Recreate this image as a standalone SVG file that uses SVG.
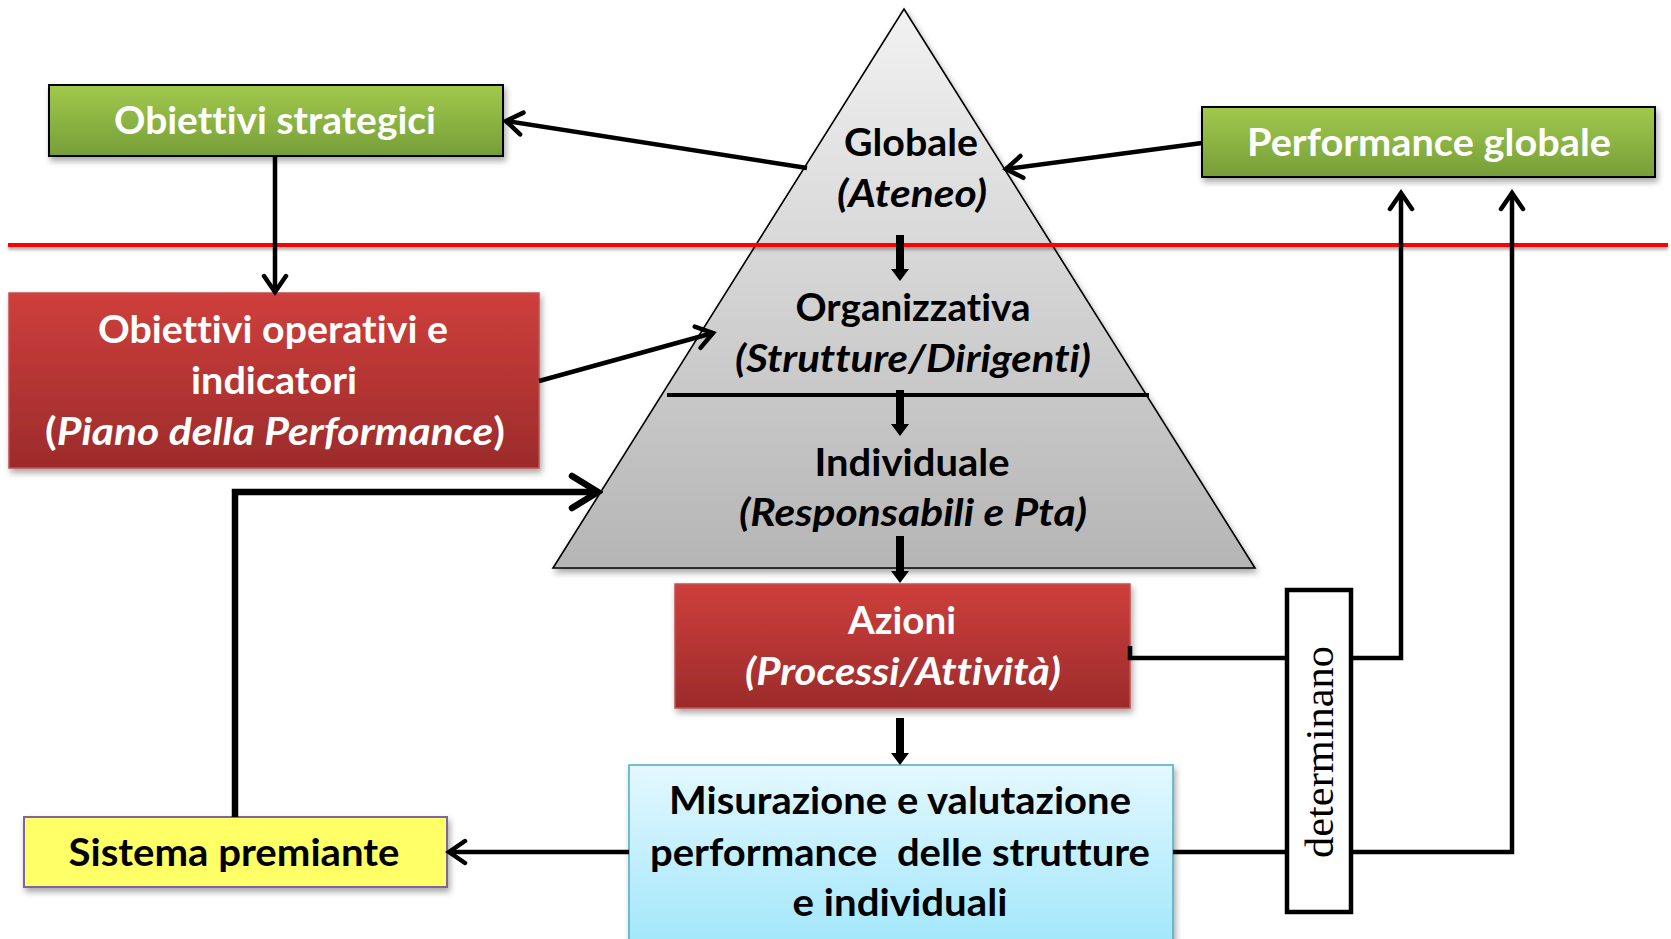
<svg xmlns="http://www.w3.org/2000/svg" width="1671" height="939" viewBox="0 0 1671 939">
<defs>
<linearGradient id="gGreen" x1="0" y1="0" x2="0" y2="1"><stop offset="0" stop-color="#a1c94d"/><stop offset="1" stop-color="#769e38"/></linearGradient>
<linearGradient id="gRed" x1="0" y1="0" x2="0" y2="1"><stop offset="0" stop-color="#ce3f3c"/><stop offset="1" stop-color="#9c2b2b"/></linearGradient>
<linearGradient id="gBlue" x1="0" y1="0" x2="0" y2="1"><stop offset="0" stop-color="#e4f8fe"/><stop offset="1" stop-color="#a0e6fb"/></linearGradient>
<linearGradient id="gPyr" x1="0" y1="0" x2="0" y2="1"><stop offset="0" stop-color="#f2f2f2"/><stop offset="1" stop-color="#b5b5b5"/></linearGradient>
<filter id="sh" x="-10%" y="-10%" width="125%" height="140%"><feDropShadow dx="2" dy="4" stdDeviation="3" flood-color="#000" flood-opacity="0.35"/></filter>
<filter id="shl" filterUnits="userSpaceOnUse" x="0" y="230" width="1671" height="30"><feDropShadow dx="0" dy="3" stdDeviation="1.5" flood-color="#000" flood-opacity="0.3"/></filter>
<marker id="arr" viewBox="0 0 24 28" refX="20" refY="14" markerWidth="24" markerHeight="28" markerUnits="userSpaceOnUse" orient="auto"><path d="M4,3 L20,14 L4,25" fill="none" stroke="#000" stroke-width="4.5" stroke-linecap="round"/></marker>
<marker id="arrbig" viewBox="0 0 36 40" refX="31" refY="20" markerWidth="36" markerHeight="40" markerUnits="userSpaceOnUse" orient="auto"><path d="M5,4 L31,20 L5,36" fill="none" stroke="#000" stroke-width="6.5" stroke-linecap="round"/></marker>
<style>
.t{font-family:Lato,"Open Sans","Liberation Sans",sans-serif;font-weight:bold;font-size:38px;text-anchor:middle;font-variant-ligatures:none;font-feature-settings:"liga" 0,"clig" 0,"dlig" 0,"calt" 0;letter-spacing:0.01px}
.w{fill:#fff}
.k{fill:#000}
.i{font-style:italic}
.c{fill:none;stroke:#000;stroke-width:4.5}
.box{filter:url(#sh)}
</style>
</defs>
<rect width="1671" height="939" fill="#fff"/>

<g id="pyramid">
<path d="M904,9 L1255,568 L553,568 Z" fill="url(#gPyr)" stroke="#000" stroke-width="1.6" filter="url(#sh)"/>
<line x1="667" y1="395" x2="1149" y2="395" stroke="#000" stroke-width="4"/>
<text class="t k" x="911" y="156" textLength="134" lengthAdjust="spacingAndGlyphs">Globale</text>
<text class="t k i" x="912" y="207" textLength="150" lengthAdjust="spacingAndGlyphs">(Ateneo)</text>
<text class="t k" x="913" y="321" textLength="235" lengthAdjust="spacingAndGlyphs">Organizzativa</text>
<text class="t k i" x="913" y="372" textLength="356" lengthAdjust="spacingAndGlyphs">(Strutture/Dirigenti)</text>
<text class="t k" x="912" y="476" textLength="195" lengthAdjust="spacingAndGlyphs">Individuale</text>
<text class="t k i" x="913" y="526" textLength="348" lengthAdjust="spacingAndGlyphs">(Responsabili e Pta)</text>
</g>

<line id="redline" x1="8" y1="245" x2="1668" y2="245" stroke="#ff0000" stroke-width="4" filter="url(#shl)"/>

<g id="obiettivi-strategici">
<rect class="box" x="49" y="85" width="454" height="71" fill="url(#gGreen)" stroke="#000" stroke-width="2"/>
<text class="t w" x="275" y="134" textLength="322" lengthAdjust="spacingAndGlyphs">Obiettivi strategici</text>
</g>

<g id="performance-globale">
<rect class="box" x="1202" y="107" width="453" height="70" fill="url(#gGreen)" stroke="#000" stroke-width="2"/>
<text class="t w" x="1429" y="156" textLength="364" lengthAdjust="spacingAndGlyphs">Performance globale</text>
</g>

<g id="obiettivi-operativi">
<rect class="box" x="9" y="293" width="530" height="175" fill="url(#gRed)" stroke="#c0504d" stroke-width="1.5"/>
<text class="t w" x="273" y="343" textLength="350" lengthAdjust="spacingAndGlyphs">Obiettivi operativi e</text>
<text class="t w" x="274" y="394" textLength="166" lengthAdjust="spacingAndGlyphs">indicatori</text>
<text class="t w" x="275" y="445" textLength="460" lengthAdjust="spacingAndGlyphs">(<tspan class="i">Piano della Performance</tspan>)</text>
</g>

<g id="azioni">
<rect class="box" x="675" y="584" width="455" height="124" fill="url(#gRed)" stroke="#c0504d" stroke-width="1.5"/>
<text class="t w" x="902" y="634" textLength="108" lengthAdjust="spacingAndGlyphs">Azioni</text>
<text class="t w i" x="903" y="685" textLength="316" lengthAdjust="spacingAndGlyphs">(Processi/Attività)</text>
</g>

<g id="misurazione">
<rect class="box" x="629" y="765" width="544" height="185" fill="url(#gBlue)" stroke="#4bacc6" stroke-width="1.5"/>
<text class="t k" x="900" y="814" textLength="462" lengthAdjust="spacingAndGlyphs">Misurazione e valutazione</text>
<text class="t k" x="900" y="866" textLength="500" lengthAdjust="spacingAndGlyphs" xml:space="preserve">performance  delle strutture</text>
<text class="t k" x="900" y="916" textLength="215" lengthAdjust="spacingAndGlyphs">e individuali</text>
</g>

<g id="sistema-premiante">
<rect class="box" x="24" y="817" width="423" height="70" fill="#ffff66" stroke="#8064a2" stroke-width="2"/>
<text class="t k" x="234" y="866" textLength="331" lengthAdjust="spacingAndGlyphs">Sistema premiante</text>
</g>

<g id="determinano">
<rect x="1287" y="590" width="64" height="322" fill="#fff" stroke="#000" stroke-width="4.5"/>
<text transform="translate(1333,752) rotate(-90)" font-family="'Liberation Serif',serif" font-size="40" text-anchor="middle" fill="#000" textLength="212" lengthAdjust="spacingAndGlyphs">determinano</text>
</g>

<g id="connectors">
<line class="c" x1="807" y1="168" x2="506" y2="121" marker-end="url(#arr)"/>
<line class="c" x1="1202" y1="143" x2="1006" y2="169" marker-end="url(#arr)"/>
<line class="c" x1="275" y1="156" x2="275" y2="292" marker-end="url(#arr)"/>
<line class="c" x1="539" y1="381" x2="713" y2="333" marker-end="url(#arr)"/>
<path d="M235,817 V492 H598" fill="none" stroke="#000" stroke-width="6.5" marker-end="url(#arrbig)"/>
<line class="c" x1="629" y1="852" x2="449" y2="852" marker-end="url(#arr)"/>
<path class="c" d="M1130,646 V658 H1287"/>
<path class="c" d="M1351,658 H1401 V193" marker-end="url(#arr)"/>
<path class="c" d="M1173,852 H1287"/>
<path class="c" d="M1351,852 H1512 V193" marker-end="url(#arr)"/>
<path d="M896,235 H904 V269 H909 L900,281 L891,269 H896 Z" fill="#000"/>
<path d="M896,390 H904 V424 H909 L900,436 L891,424 H896 Z" fill="#000"/>
<path d="M896,536 H904 V571 H909 L900,583 L891,571 H896 Z" fill="#000"/>
<path d="M896,718 H904 V753 H909 L900,765 L891,753 H896 Z" fill="#000"/>
</g>
</svg>
